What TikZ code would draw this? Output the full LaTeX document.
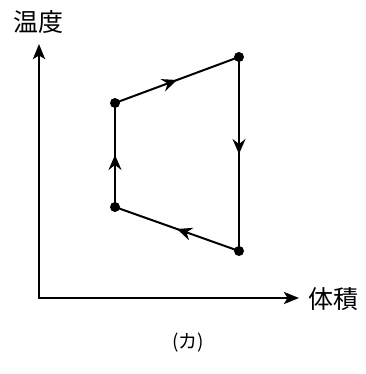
\documentclass[tikz,border=0pt]{standalone}
\usepackage{fontspec}
\newfontfamily\cjk{Noto Sans CJK JP}
\usetikzlibrary{arrows.meta,decorations.markings}
\begin{document}
\begin{tikzpicture}[x=1pt,y=-1pt,
  axis/.style={line width=2.6pt,-{Stealth[length=15pt,width=12pt,inset=3.5pt]}},
  edge/.style={line width=2pt,postaction={decorate},decoration={markings,
    mark=at position 0.5 with {\arrow{Stealth[length=15pt,width=13pt,inset=5pt]}}}},
  pt/.style={circle,fill=black,inner sep=0pt,minimum size=10pt},
  lbl/.style={font=\cjk\fontsize{25}{28}\selectfont,inner sep=0pt}]
\useasboundingbox (0,0) rectangle (365,374);
\coordinate (O) at (39,298);
\coordinate (Y) at (39,44);
\coordinate (X) at (299,298);
\node[pt] (A) at (115,103) {};
\node[pt] (B) at (239,57) {};
\node[pt] (C) at (239,251) {};
\node[pt] (D) at (115,207) {};
\draw[axis,line cap=rect] (O) -- (Y);
\draw[axis] (O) -- (X);
\draw[edge] (A.center) -- (B.center);
\draw[edge] (B.center) -- (C.center);
\draw[edge] (C.center) -- (D.center);
\draw[edge] (D.center) -- (A.center);
\node[lbl] (t) at (38,22) {温度};
\node[lbl] (v) at (333,299) {体積};
\node[font=\cjk\fontsize{19}{22}\selectfont,inner sep=0pt] (k) at (188,343) {(カ)};
\end{tikzpicture}
\end{document}
